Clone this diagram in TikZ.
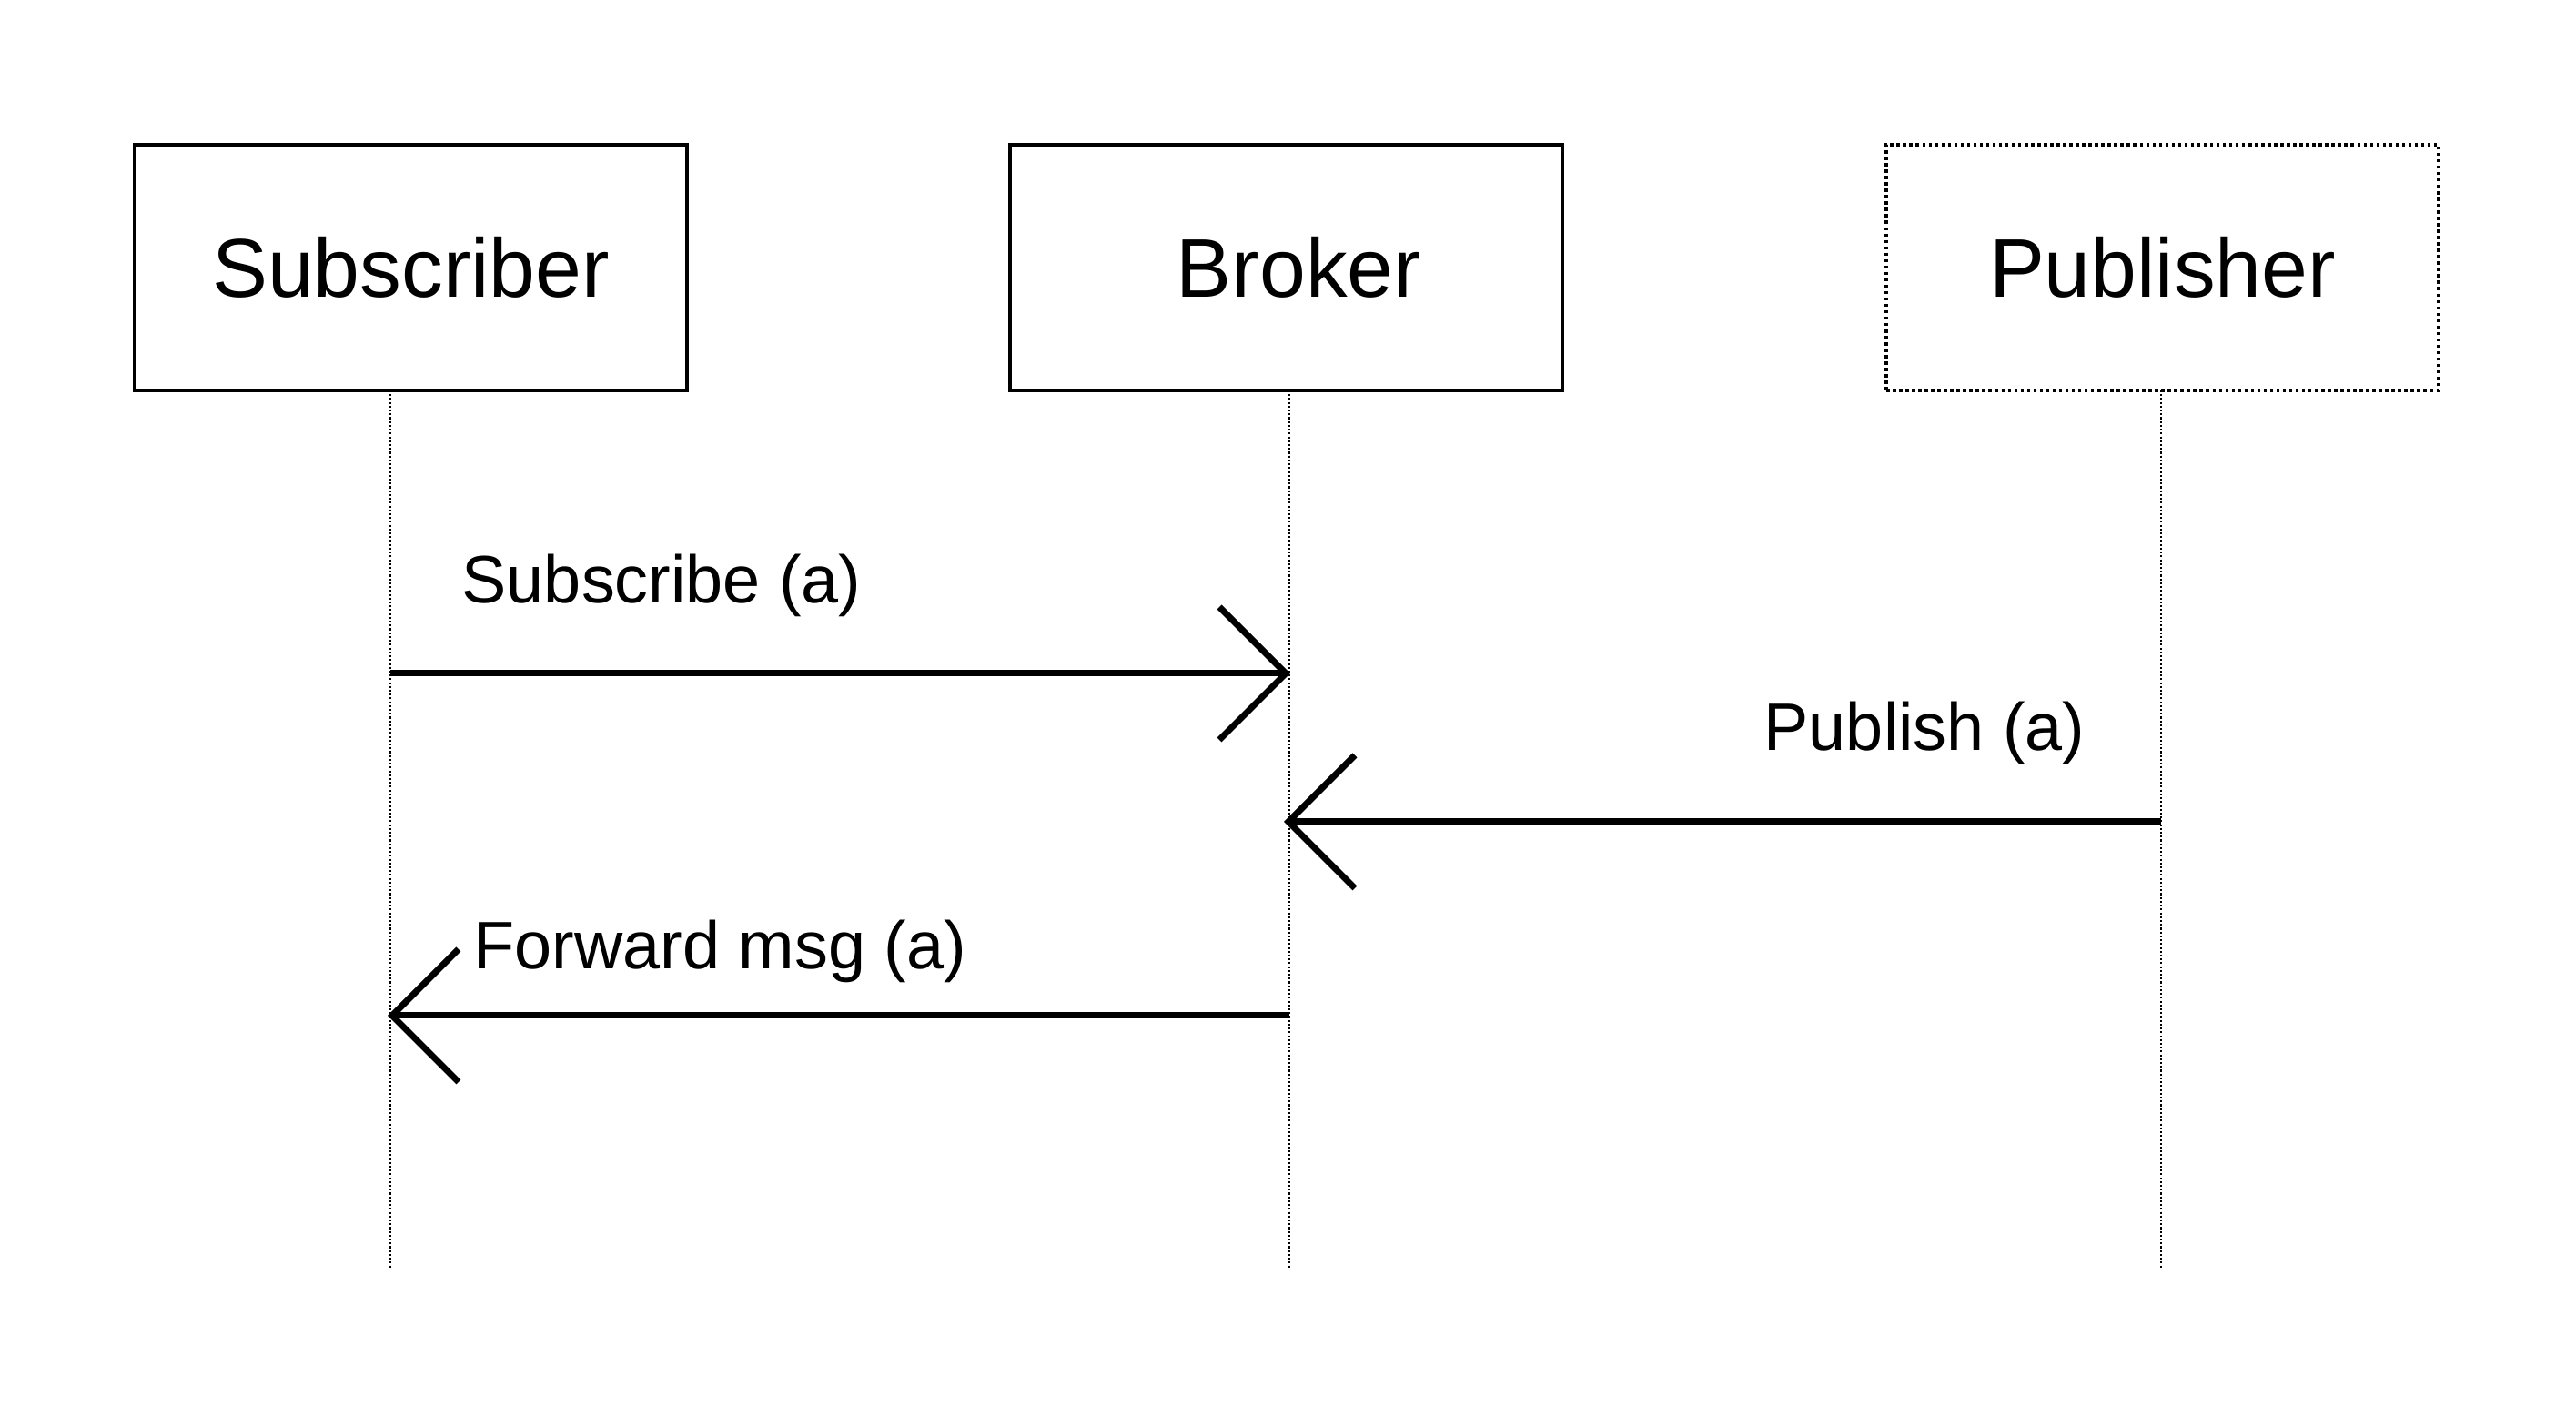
\documentclass[tikz,border=0pt]{standalone}
\usepackage{fontspec}
\setmainfont{Liberation Sans}
\usetikzlibrary{arrows.meta}
\begin{document}
\begin{tikzpicture}[
  actor/.style={draw,line width=1pt,minimum width=6.07cm,minimum height=2.7cm,font=\fontsize{26}{30}\selectfont},
  lifeline/.style={line width=0.5pt,dash pattern=on 0.6pt off 0.6pt},
  msg/.style={line width=2pt,-{Straight Barb[sharp,length=0.73cm,width=1.46cm]}},
  lbl/.style={inner sep=0pt,anchor=base west,font=\fontsize{21}{25}\selectfont}]
\useasboundingbox (0,0) rectangle (28.31,15.68);
% participants
\node[actor] (sub) at (4.515,12.74) {Subscriber};
\node[actor] (bro) at (14.135,12.74) {\hspace*{0.28cm}Broker};
\node[actor,dash pattern=on 1pt off 1pt] (pub) at (23.765,12.74) {Publisher};
% lifelines
\coordinate (subT) at (4.29,11.39);  \coordinate (subB) at (4.29,1.74);
\coordinate (broT) at (14.17,11.39); \coordinate (broB) at (14.17,1.74);
\coordinate (pubT) at (23.75,11.39); \coordinate (pubB) at (23.75,1.74);
\draw[lifeline] (subT)--(subB);
\draw[lifeline] (broT)--(broB);
\draw[lifeline] (pubT)--(pubB);
% messages
\coordinate (s1) at (4.29,8.28);  \coordinate (b1) at (14.18,8.28);
\coordinate (p2) at (23.75,6.65); \coordinate (b2) at (14.11,6.65);
\coordinate (b3) at (14.17,4.52); \coordinate (s3) at (4.26,4.52);
\draw[msg] (s1)--(b1);
\draw[msg] (p2)--(b2);
\draw[msg] (b3)--(s3);
\node[lbl] (l1) at (5.07,9.05) {Subscribe (a)};
\node[lbl] (l2) at (19.38,7.43) {Publish (a)};
\node[lbl] (l3) at (5.20,5.03) {Forward msg (a)};
\end{tikzpicture}
\end{document}
